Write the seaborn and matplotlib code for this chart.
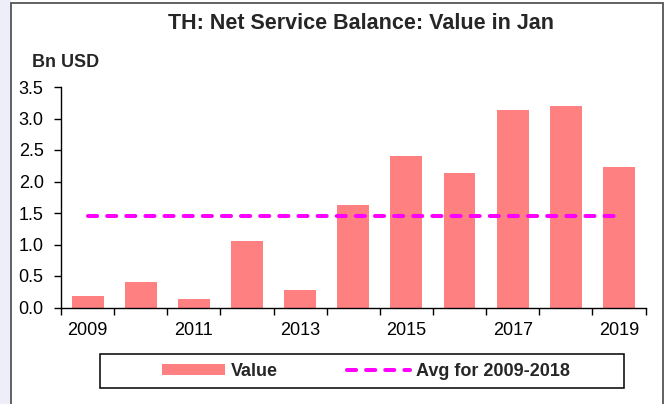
import matplotlib
matplotlib.use("Agg")
import matplotlib.pyplot as plt
import seaborn as sns
import pandas as pd
import numpy as np
from matplotlib.patches import Rectangle
from matplotlib.lines import Line2D
from matplotlib.ticker import FixedLocator, NullFormatter

years = [2009, 2010, 2011, 2012, 2013, 2014, 2015, 2016, 2017, 2018, 2019]
values = [0.18, 0.40, 0.13, 1.05, 0.27, 1.62, 2.40, 2.13, 3.13, 3.20, 2.23]
avg_2009_2018 = [1.45] * len(years)
title = "TH: Net Service Balance: Value in Jan"
unit_label = "Bn USD"
yticks = [0.0, 0.5, 1.0, 1.5, 2.0, 2.5, 3.0, 3.5]
xtick_labels = [2009, 2011, 2013, 2015, 2017, 2019]

sns.set_theme(style="white")
plt.rcParams["font.family"] = ["Liberation Sans", "DejaVu Sans"]

BAR = "#FF8080"
AVG = "#FF00FF"
LW = 2.9
DASH = (2.25, 2.5)

W, H = 669, 404
fig = plt.figure(figsize=(W / 100, H / 100), dpi=100)
fig.patch.set_facecolor("white")

def fx(px):
    return px / W

def fy(py):
    return 1 - py / H

# left light background and outer frame
fig.patches.append(Rectangle((0, 0), fx(11), 1, transform=fig.transFigure,
                             facecolor="#EEEEF8", edgecolor="none", zorder=0))
fig.patches.append(Rectangle((fx(11), -0.01), fx(663 - 11), fy(3) + 0.01,
                             transform=fig.transFigure, facecolor="white",
                             edgecolor="#555555", linewidth=1.3, zorder=0.5))

left, right, top, bottom = 61, 645.5, 87, 307.5
ax = fig.add_axes([fx(left), fy(bottom), fx(right - left), (bottom - top) / H])
ax.set_facecolor("white")
ax.set_zorder(2)

df = pd.DataFrame({"year": years, "value": values, "avg": avg_2009_2018})
sns.barplot(data=df, x="year", y="value", native_scale=True, color=BAR,
            saturation=1, width=0.6, ax=ax, edgecolor="none")
sns.lineplot(data=df, x="year", y="avg", color=AVG, linewidth=LW, ax=ax)
ln = ax.lines[-1]
ln.set_dashes(DASH)
ln.set_dash_capstyle("round")

ax.set_xlim(2008.5, 2019.5)
ax.set_ylim(0, 3.5)
ax.set_yticks(yticks)
ax.set_yticklabels([f"{t:.1f}" for t in yticks], fontsize=13, color="black")
ax.set_xticks(xtick_labels)
ax.set_xticklabels([str(y) for y in xtick_labels], fontsize=13, color="black")
ax.tick_params(axis="x", which="major", length=0, pad=10.5, bottom=True)
ax.xaxis.set_minor_locator(FixedLocator(np.arange(2008.5, 2020, 1.0)))
ax.xaxis.set_minor_formatter(NullFormatter())
ax.tick_params(axis="x", which="minor", length=5, width=1, color="black",
               direction="out", bottom=True)
ax.tick_params(axis="y", which="major", length=5, width=1, color="black",
               direction="out", pad=7.5, left=True)
ax.set_xlabel("")
ax.set_ylabel("")
for s in ["top", "right"]:
    ax.spines[s].set_visible(False)
for s in ["left", "bottom"]:
    ax.spines[s].set_color("black")
    ax.spines[s].set_linewidth(1)
ax.grid(False)

fig.text(fx(361.5), fy(23.5), title, ha="center", va="center",
         fontsize=15.5, fontweight="bold")
fig.text(fx(32.5), fy(62.5), unit_label, ha="left", va="center",
         fontsize=13, fontweight="bold")

# legend frame
fig.patches.append(Rectangle((fx(100), fy(388)), fx(624 - 100), (388 - 354) / H,
                             transform=fig.transFigure, facecolor="white",
                             edgecolor="black", linewidth=1.1, zorder=3))
handles = [Rectangle((0, 0), 1, 1, facecolor=BAR, edgecolor="none"),
           Line2D([], [], color=AVG, linewidth=LW, dashes=DASH,
                  dash_capstyle="round")]
leg = fig.legend(handles, ["Value", "Avg for 2009-2018"],
                 loc="center", bbox_to_anchor=(fx(366), fy(371)),
                 ncol=2, frameon=False, handlelength=3.5,
                 handleheight=0.55, handletextpad=0.35, columnspacing=3.8,
                 borderpad=0.2, prop={"weight": "bold", "size": 13})
leg.set_zorder(4)

fig.savefig("out.png", dpi=100)
